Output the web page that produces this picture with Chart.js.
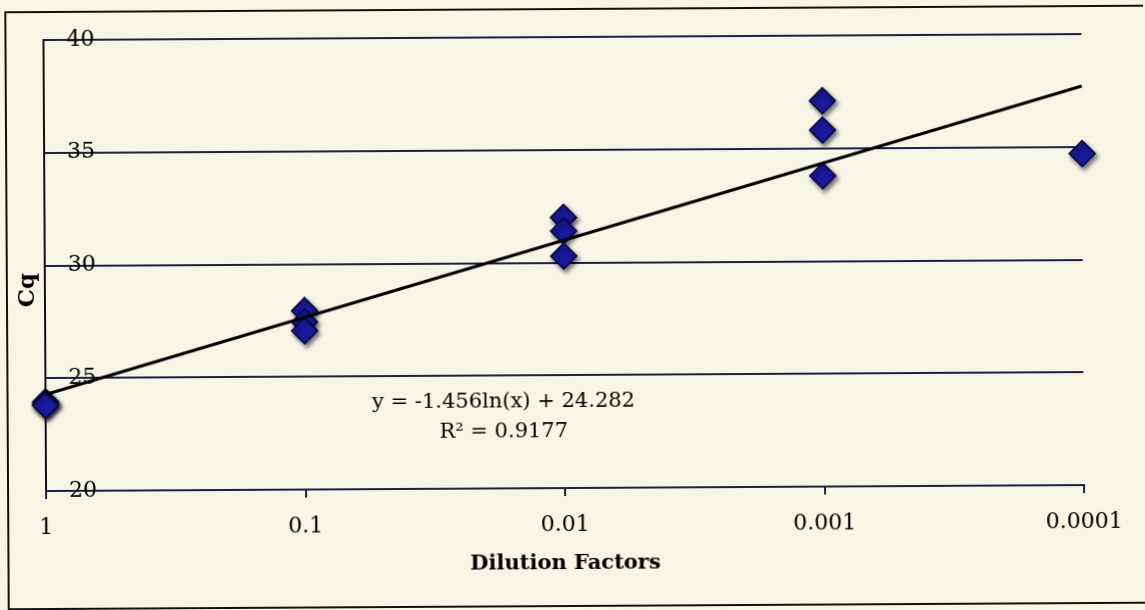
<!DOCTYPE html>
<html>
<head>
<meta charset="utf-8">
<script src="https://cdn.jsdelivr.net/npm/chart.js@4.4.1/dist/chart.umd.min.js"></script>
<style>
  html, body { margin: 0; padding: 0; background: #f6f5e6; overflow: hidden; }
  #wrap { width: 1145px; height: 610px; transform: rotate(-0.33deg); transform-origin: 50% 50%; }
  canvas { display: block; }
</style>
</head>
<body>
<div id="wrap"><canvas id="chart" width="1145" height="610"></canvas></div>
<script>
// Dilution series (x) and measured Cq values (y)
const dilutionTicks = [1, 0.1, 0.01, 0.001, 0.0001];
const dilutionTickLabels = ['1', '0.1', '0.01', '0.001', '0.0001'];
const sampleDilutions = [1, 1, 1, 0.1, 0.1, 0.1, 0.01, 0.01, 0.01, 0.001, 0.001, 0.001, 0.0001];
const sampleCq = [23.95, 23.85, 23.8, 27.93, 27.43, 27.04, 32.0, 31.4, 30.29, 37.11, 35.81, 33.78, 34.7];
const cqTicks = [20, 25, 30, 35, 40];

// Logarithmic trendline coefficients
const fitSlope = -1.456;
const fitIntercept = 24.282;
const fitR2 = '0.9177';

const serif = '"DejaVu Serif", "Liberation Serif", serif';
const ink = '#000000';
const gridInk = '#1c2242';
const paper = '#f6f5e6';

const samplePoints = sampleDilutions.map((d, i) => ({ x: d, y: sampleCq[i] }));
const fitAt = d => fitIntercept + fitSlope * Math.log(d);
const trendPoints = [dilutionTicks[0], dilutionTicks[dilutionTicks.length - 1]]
  .map(d => ({ x: d, y: fitAt(d) }));

// Paper background, outer frame, y-axis title and the trendline equation
const decorations = {
  id: 'decorations',
  beforeDraw(chart) {
    const { ctx, width, height } = chart;
    ctx.save();
    ctx.fillStyle = paper;
    ctx.fillRect(0, 0, width, height);
    ctx.strokeStyle = '#111';
    ctx.lineWidth = 2;
    ctx.strokeRect(7, 9, width + 20, 597);
    ctx.restore();
  },
  afterDraw(chart) {
    const { ctx } = chart;
    ctx.save();
    ctx.fillStyle = ink;
    ctx.textAlign = 'center';
    ctx.textBaseline = 'middle';
    ctx.font = 'bold 23px ' + serif;
    ctx.translate(28, 287);
    ctx.rotate(-Math.PI / 2);
    ctx.fillText('Cq', 0, 0);
    ctx.restore();

    ctx.save();
    ctx.fillStyle = ink;
    ctx.textAlign = 'center';
    ctx.textBaseline = 'middle';
    ctx.font = '21px ' + serif;
    ctx.fillText('y = ' + fitSlope + 'ln(x) + ' + fitIntercept, 503, 402);
    ctx.fillText('R\u00B2 = ' + fitR2, 503, 432);
    ctx.restore();
  }
};

// Soft drop shadow under the diamond markers
const markerShadow = {
  id: 'markerShadow',
  beforeDatasetDraw(chart, args) {
    if (args.index !== 1) return;
    const ctx = chart.ctx;
    ctx.save();
    ctx.shadowColor = 'rgba(0, 0, 20, 0.55)';
    ctx.shadowBlur = 4;
    ctx.shadowOffsetX = 2;
    ctx.shadowOffsetY = 3;
  },
  afterDatasetDraw(chart, args) {
    if (args.index !== 1) return;
    chart.ctx.restore();
  }
};

new Chart(document.getElementById('chart'), {
  type: 'scatter',
  data: {
    datasets: [
      {
        type: 'line',
        label: 'Log. trendline',
        data: trendPoints,
        borderColor: ink,
        borderWidth: 3,
        pointRadius: 0,
        fill: false,
        tension: 0,
        clip: false
      },
      {
        label: 'Cq',
        data: samplePoints,
        pointStyle: 'rectRot',
        pointRadius: 13,
        pointHoverRadius: 13,
        backgroundColor: '#1a1a9c',
        borderColor: '#06063a',
        borderWidth: 1.5,
        clip: false
      }
    ]
  },
  options: {
    responsive: false,
    animation: false,
    events: [],
    layout: { padding: { top: 37, right: 62, left: 0, bottom: 0 } },
    plugins: {
      legend: { display: false },
      tooltip: { enabled: false }
    },
    scales: {
      x: {
        type: 'logarithmic',
        reverse: true,
        min: 0.0001,
        max: 1,
        afterBuildTicks(scale) {
          scale.ticks = dilutionTicks.map(v => ({ value: v }));
        },
        afterFit(scale) { scale.height = 122; },
        ticks: {
          autoSkip: false,
          maxRotation: 0,
          padding: 16,
          color: ink,
          font: { family: serif, size: 22 },
          callback(value) {
            const i = dilutionTicks.indexOf(value);
            return i >= 0 ? dilutionTickLabels[i] : '';
          }
        },
        grid: {
          drawOnChartArea: false,
          drawTicks: true,
          tickLength: 8,
          color: gridInk,
          lineWidth: 2
        },
        border: { display: true, color: gridInk, width: 2 },
        title: {
          display: true,
          text: 'Dilution Factors',
          color: ink,
          font: { family: serif, size: 21, weight: 'bold' },
          padding: { top: 0, bottom: 34 }
        }
      },
      y: {
        min: 20,
        max: 40,
        afterBuildTicks(scale) {
          scale.ticks = cqTicks.map(v => ({ value: v }));
        },
        afterFit(scale) { scale.width = 45; },
        ticks: {
          mirror: true,
          padding: 23,
          color: ink,
          font: { family: serif, size: 22 }
        },
        grid: {
          drawTicks: false,
          color: gridInk,
          lineWidth: 2
        },
        border: { display: true, color: '#111', width: 2 }
      }
    }
  },
  plugins: [decorations, markerShadow]
});
</script>
</body>
</html>
